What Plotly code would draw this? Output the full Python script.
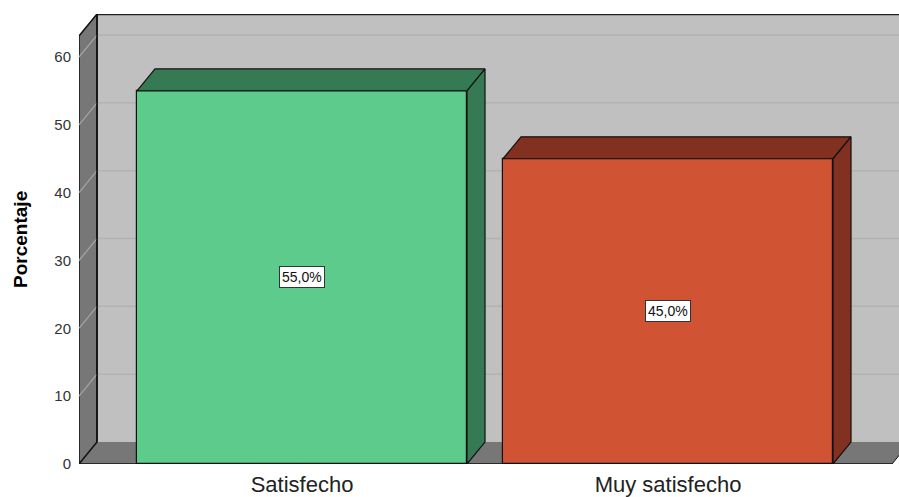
import plotly.graph_objects as go

# ---- data ----
categories = ["Satisfecho", "Muy satisfecho"]
percentages = [55.0, 45.0]
value_labels = ["55,0%", "45,0%"]
front_colors = ["#5CCB8C", "#D05334"]
dark_colors = ["#367A53", "#823020"]
y_ticks = [0, 10, 20, 30, 40, 50, 60]

# ---- geometry (axis units) ----
X_MIN, X_MAX = -0.6093, 1.6311
Y_MAX = 66.34
DX = 0.0492          # oblique depth, x
DY = 3.24            # oblique depth, y
BAR_W = 0.9016
F_TOP = Y_MAX - DY
FLOOR_RIGHT = 1.612
BX0 = X_MIN + DX
FONT = "Arial, Liberation Sans, sans-serif"

fig = go.Figure()

# front faces of bars
fig.add_trace(go.Bar(
    x=list(range(len(categories))), y=percentages, width=BAR_W,
    marker=dict(color=front_colors, line=dict(color="#111111", width=1.2)),
    hoverinfo="skip", showlegend=False))

# top and side faces
for i, v in enumerate(percentages):
    x0, x1 = i - BAR_W / 2, i + BAR_W / 2
    fig.add_trace(go.Scatter(
        x=[x0, x0 + DX, x1 + DX, x1, x0], y=[v, v + DY, v + DY, v, v],
        fill="toself", fillcolor=dark_colors[i], mode="lines",
        line=dict(color="#111111", width=1.2), hoverinfo="skip", showlegend=False))
    fig.add_trace(go.Scatter(
        x=[x1, x1, x1 + DX, x1 + DX, x1], y=[0, v, v + DY, DY, 0],
        fill="toself", fillcolor=dark_colors[i], mode="lines",
        line=dict(color="#111111", width=1.2), hoverinfo="skip", showlegend=False))

shapes = []
# back wall
shapes.append(dict(type="rect", xref="x", yref="y", x0=BX0, x1=X_MAX + 0.1, y0=DY, y1=Y_MAX,
                   fillcolor="#C0C0C0", line=dict(width=0), layer="below"))
for t in y_ticks[1:]:
    shapes.append(dict(type="line", xref="x", yref="y", x0=BX0, x1=X_MAX + 0.1, y0=t + DY, y1=t + DY,
                       line=dict(color="#B2B2B2", width=1.5), layer="below"))
# floor
shapes.append(dict(type="path", xref="x", yref="y",
                   path=f"M {X_MIN},0 L {FLOOR_RIGHT},0 L {FLOOR_RIGHT + DX},{DY} L {BX0},{DY} Z",
                   fillcolor="#777777", line=dict(width=0), layer="below"))
# left wall
shapes.append(dict(type="path", xref="x", yref="y",
                   path=f"M {X_MIN},0 L {X_MIN},{F_TOP} L {BX0},{Y_MAX} L {BX0},{DY} Z",
                   fillcolor="#777777", line=dict(color="#111111", width=1.5), layer="below"))
for t in y_ticks[1:]:
    shapes.append(dict(type="line", xref="x", yref="y", x0=X_MIN, x1=BX0, y0=t, y1=t + DY,
                       line=dict(color="#A6A6A6", width=1.2), layer="below"))
# edges
shapes.append(dict(type="line", xref="x", yref="y", x0=BX0, x1=X_MAX + 0.1, y0=Y_MAX - 0.05, y1=Y_MAX - 0.05,
                   line=dict(color="#222222", width=2), layer="below"))
shapes.append(dict(type="line", xref="x", yref="y", x0=BX0, x1=BX0, y0=DY, y1=Y_MAX,
                   line=dict(color="#111111", width=1.5), layer="below"))
shapes.append(dict(type="line", xref="x", yref="y", x0=X_MIN, x1=FLOOR_RIGHT, y0=0, y1=0,
                   line=dict(color="#111111", width=1.5), layer="below"))
shapes.append(dict(type="line", xref="x", yref="y", x0=FLOOR_RIGHT, x1=FLOOR_RIGHT + DX, y0=0, y1=DY,
                   line=dict(color="#111111", width=1), layer="below"))

annotations = []
for i, v in enumerate(percentages):
    annotations.append(dict(x=i, y=v / 2, xref="x", yref="y", text=value_labels[i], showarrow=False,
                            bgcolor="white", bordercolor="#333333", borderwidth=1, borderpad=2,
                            font=dict(family=FONT, size=14, color="#111111")))
annotations.append(dict(x=-0.072, y=0.5, xref="paper", yref="paper", text="<b>Porcentaje</b>",
                        textangle=-90, showarrow=False, xanchor="center", yanchor="middle",
                        font=dict(family=FONT, size=19, color="black")))

fig.update_layout(
    width=899, height=497,
    margin=dict(l=79, r=0, t=14, b=33, autoexpand=False),
    paper_bgcolor="white", plot_bgcolor="white",
    shapes=shapes, annotations=annotations, bargap=0,
    xaxis=dict(range=[X_MIN, X_MAX], tickvals=list(range(len(categories))), ticktext=categories,
               showgrid=False, zeroline=False, showline=False, ticks="", ticklabelstandoff=5,
               tickfont=dict(family=FONT, size=22, color="#222222")),
    yaxis=dict(range=[0, Y_MAX], tickvals=y_ticks, showgrid=False, zeroline=False, showline=False,
               ticks="", ticklabelstandoff=7,
               tickfont=dict(family=FONT, size=15, color="#333333")),
)

fig.write_html("out.html", config={"displayModeBar": False},
               post_script="document.body.style.margin='0';document.body.style.overflow='hidden';")
